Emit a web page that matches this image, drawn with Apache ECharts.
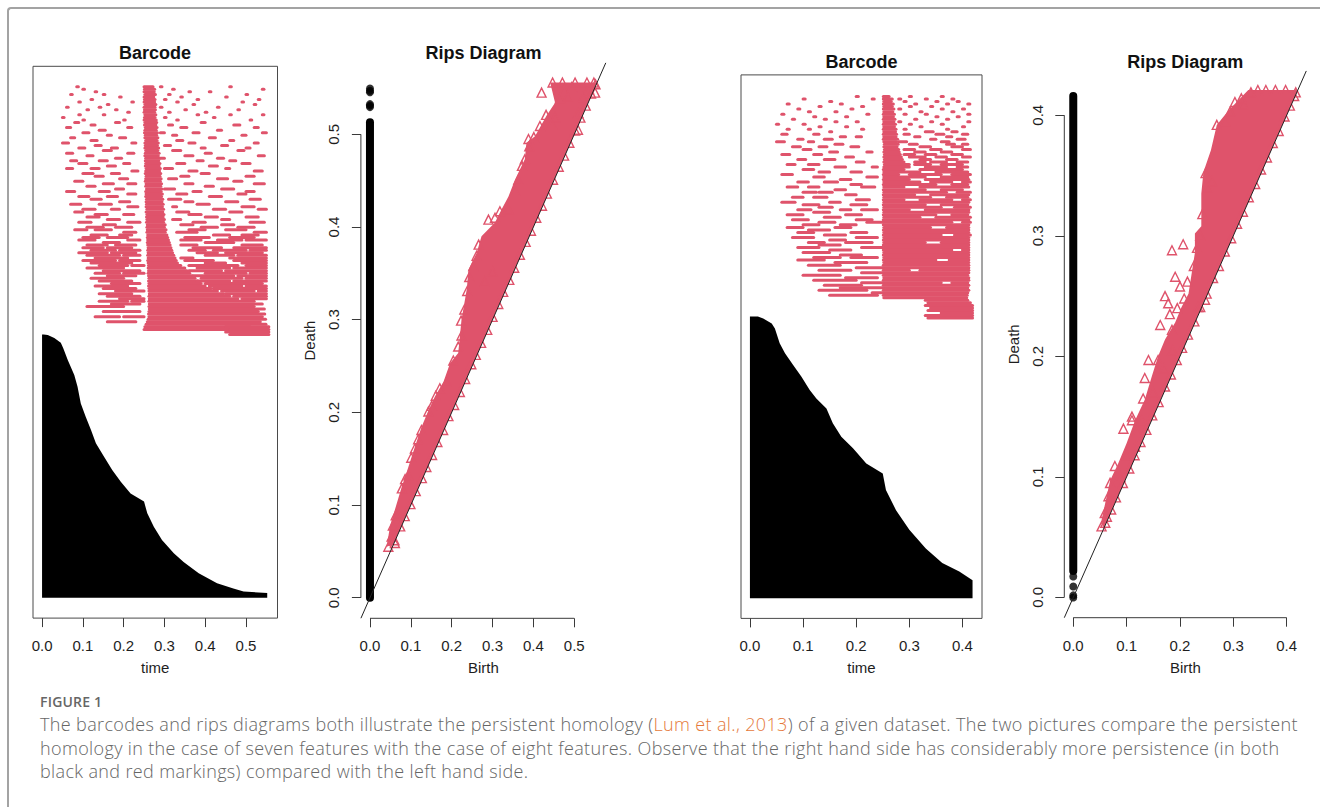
<!DOCTYPE html>
<html>
<head>
<meta charset="utf-8">
<script src="https://cdn.jsdelivr.net/npm/echarts@6/dist/echarts.min.js"></script>
<style>
html, body { margin: 0; padding: 0; background: #fff; }
#frame { position: absolute; left: 7px; top: 7px; width: 1400px; height: 900px;
  border-left: 2px solid #a3a3a3; border-top: 2px solid #a3a3a3; border-top-left-radius: 4px; }
#chart { position: absolute; left: 0; top: 0; width: 1320px; height: 690px; }
#figlabel { position: absolute; left: 40px; top: 694px; font: 600 14px "Open Sans", Lato, sans-serif;
  color: #666; letter-spacing: 0.2px; line-height: 16px; }
#caption { position: absolute; left: 40px; top: 713px; font: 300 18px "Open Sans", Lato, sans-serif;
  letter-spacing: 0.36px; color: #666; line-height: 23.5px; white-space: nowrap; }
#caption .ref { color: #e5793a; }
</style>
</head>
<body>
<div id="frame"></div>
<div id="chart"></div>
<div id="figlabel">FIGURE 1</div>
<div id="caption">The barcodes and rips diagrams both illustrate the persistent homology (<span class="ref">Lum et al., 2013</span>) of a given dataset. The two pictures compare the persistent<br>homology in the case of seven features with the case of eight features. Observe that the right hand side has considerably more persistence (in both<br>black and red markings) compared with the left hand side.</div>
<script>
var RED = '#DF536B';
var TXT = '#1e1e1e';
var FONT = '"Liberation Sans", Arial, Helvetica, sans-serif';

// axis ranges (R pads 4% each side)
var rangeL = [-0.0222, 0.5772];
var rangeR = [-0.0168, 0.4368];
var rankRange = [-4, 104];

var ticksL = [0, 0.1, 0.2, 0.3, 0.4, 0.5];
var ticksR = [0, 0.1, 0.2, 0.3, 0.4];

// ---- left barcode (seven features) ----
// H0 bars: death time by stack position (rank 0 = bottom bar)
var h0RankL = [0, 0.9, 1.2, 1.8, 2.8, 4.8, 7.0, 8.7, 11.3, 13.9, 16.5, 18.8, 20.4, 22.7, 25.0, 27.6, 30.2, 32.8, 35.4, 38.0, 41.3, 43.6, 46.5, 48.8, 49.9, 50.8, 51.4, 51.5];
var h0DeathL = [0.552, 0.552, 0.494, 0.469, 0.429, 0.384, 0.347, 0.323, 0.294, 0.274, 0.258, 0.250, 0.217, 0.193, 0.172, 0.152, 0.132, 0.120, 0.107, 0.095, 0.087, 0.079, 0.063, 0.052, 0.046, 0.030, 0.014, 0.004];
// H1 bars by row: [rank, birth, death, birth, death, ...]
var h1RowsL = [
 [100.0, 0.250,0.272, 0.29,0.294, 0.46,0.464, 0.085,0.089],
 [99.5, 0.251,0.276, 0.10,0.104, 0.32,0.324, 0.54,0.544],
 [99.0, 0.250,0.275, 0.13,0.134, 0.36,0.364, 0.41,0.414],
 [98.5, 0.252,0.278, 0.07,0.074, 0.15,0.154, 0.31,0.314, 0.50,0.504],
 [98.0, 0.250,0.274, 0.19,0.194, 0.34,0.344, 0.45,0.454],
 [97.5, 0.251,0.277, 0.12,0.124, 0.30,0.304, 0.38,0.384, 0.53,0.534],
 [97.0, 0.250,0.276, 0.09,0.094, 0.22,0.224, 0.33,0.334, 0.49,0.494],
 [96.5, 0.252,0.279, 0.16,0.164, 0.37,0.374, 0.52,0.524],
 [96.0, 0.250,0.277, 0.06,0.064, 0.14,0.144, 0.29,0.294, 0.43,0.434],
 [95.5, 0.251,0.278, 0.11,0.114, 0.18,0.184, 0.35,0.354, 0.48,0.484],
 [95.0, 0.250,0.276, 0.21,0.214, 0.31,0.314, 0.40,0.404],
 [94.5, 0.252,0.279, 0.09,0.094, 0.15,0.154, 0.38,0.384, 0.46,0.464, 0.54,0.544],
 [94.0, 0.251,0.277, 0.05,0.054, 0.30,0.304, 0.42,0.424],
 [93.5, 0.250,0.280, 0.10,0.104, 0.20,0.204, 0.33,0.334, 0.51,0.514],
 [93.0, 0.252,0.281, 0.08,0.09, 0.18,0.19, 0.39,0.40],
 [92.5, 0.251,0.279, 0.12,0.13, 0.31,0.32, 0.47,0.485],
 [92.0, 0.253,0.282, 0.06,0.07, 0.21,0.22, 0.34,0.355, 0.52,0.53],
 [91.5, 0.252,0.280, 0.14,0.155, 0.43,0.44],
 [91.0, 0.251,0.283, 0.10,0.115, 0.29,0.30, 0.37,0.385, 0.54,0.55],
 [90.5, 0.253,0.281, 0.16,0.17, 0.32,0.33, 0.49,0.50],
 [90.0, 0.252,0.284, 0.07,0.08, 0.19,0.205, 0.41,0.425],
 [89.5, 0.254,0.282, 0.12,0.135, 0.33,0.345, 0.46,0.47],
 [89.0, 0.252,0.285, 0.05,0.065, 0.22,0.23, 0.36,0.375, 0.52,0.53],
 [88.5, 0.253,0.283, 0.13,0.145, 0.30,0.315, 0.44,0.455],
 [88.0, 0.252,0.286, 0.09,0.105, 0.17,0.185, 0.39,0.40, 0.50,0.51],
 [87.5, 0.254,0.284, 0.15,0.17, 0.32,0.34, 0.48,0.495],
 [87.0, 0.253,0.287, 0.06,0.075, 0.21,0.225, 0.40,0.415],
 [86.5, 0.252,0.285, 0.11,0.125, 0.35,0.37, 0.53,0.545],
 [86.0, 0.254,0.288, 0.18,0.195, 0.29,0.30, 0.43,0.445],
 [85.5, 0.253,0.286, 0.07,0.085, 0.14,0.16, 0.38,0.395, 0.46,0.475],
 [85.0, 0.254,0.289, 0.09,0.11, 0.20,0.215, 0.33,0.35, 0.49,0.51],
 [84.5, 0.253,0.287, 0.16,0.18, 0.41,0.43],
 [84.0, 0.255,0.290, 0.06,0.075, 0.12,0.14, 0.30,0.32, 0.45,0.46],
 [83.5, 0.254,0.288, 0.22,0.235, 0.36,0.38, 0.52,0.54],
 [83.0, 0.253,0.291, 0.10,0.125, 0.17,0.19, 0.39,0.41],
 [82.5, 0.255,0.289, 0.13,0.15, 0.34,0.36, 0.50,0.52],
 [82.0, 0.254,0.292, 0.19,0.21, 0.31,0.33, 0.43,0.455],
 [81.5, 0.253,0.290, 0.08,0.10, 0.47,0.49],
 [81.0, 0.255,0.293, 0.15,0.175, 0.21,0.23, 0.35,0.37, 0.52,0.545],
 [80.5, 0.254,0.291, 0.11,0.13, 0.40,0.42],
 [80.0, 0.256,0.294, 0.18,0.20, 0.30,0.325, 0.44,0.47],
 [79.5, 0.254,0.292, 0.06,0.08, 0.14,0.165, 0.37,0.39, 0.50,0.52],
 [79.0, 0.255,0.295, 0.21,0.23, 0.33,0.355, 0.48,0.50],
 [78.5, 0.254,0.293, 0.09,0.115, 0.16,0.185, 0.41,0.44],
 [78.0, 0.256,0.296, 0.12,0.145, 0.31,0.34, 0.51,0.535],
 [77.5, 0.255,0.294, 0.19,0.215, 0.35,0.37, 0.45,0.48],
 [77.0, 0.256,0.297, 0.07,0.095, 0.14,0.17, 0.38,0.41],
 [76.5, 0.255,0.295, 0.21,0.235, 0.32,0.33, 0.49,0.52],
 [76.0, 0.257,0.298, 0.10,0.13, 0.17,0.19, 0.42,0.45, 0.53,0.55],
 [75.5, 0.255,0.296, 0.08,0.10, 0.33,0.36, 0.46,0.49],
 [75.0, 0.257,0.299, 0.13,0.16, 0.20,0.225, 0.36,0.39],
 [74.5, 0.256,0.297, 0.11,0.14, 0.40,0.43, 0.50,0.53],
 [74.0, 0.257,0.300, 0.16,0.19, 0.32,0.34, 0.44,0.46],
 [73.5, 0.256,0.298, 0.09,0.12, 0.21,0.24, 0.37,0.40, 0.51,0.545],
 [73.0, 0.258,0.302, 0.15,0.18, 0.34,0.37, 0.44,0.47],
 [72.5, 0.257,0.300, 0.11,0.15, 0.18,0.22, 0.39,0.43, 0.48,0.52],
 [72.0, 0.258,0.304, 0.08,0.11, 0.13,0.17, 0.36,0.40, 0.45,0.50],
 [71.5, 0.257,0.302, 0.20,0.23, 0.33,0.38, 0.52,0.55],
 [71.0, 0.259,0.306, 0.12,0.16, 0.19,0.22, 0.42,0.46, 0.49,0.53],
 [70.5, 0.258,0.308, 0.10,0.14, 0.16,0.21, 0.35,0.41, 0.46,0.52],
 [70.0, 0.259,0.310, 0.09,0.13, 0.21,0.24, 0.34,0.39, 0.43,0.49, 0.50,0.55],
 [69.5, 0.258,0.312, 0.15,0.19, 0.40,0.47],
 [69.0, 0.259,0.314, 0.11,0.16, 0.18,0.23, 0.34,0.38, 0.49,0.54],
 [68.5, 0.260,0.316, 0.10,0.15, 0.16,0.22, 0.37,0.44, 0.47,0.55],
 [68.0, 0.259,0.318, 0.12,0.18, 0.19,0.24, 0.36,0.40, 0.42,0.50, 0.51,0.55],
 [67.5, 0.260,0.320, 0.09,0.16, 0.17,0.23, 0.38,0.43, 0.45,0.54],
 [67.0, 0.259,0.323, 0.11,0.19, 0.20,0.24, 0.40,0.47, 0.48,0.55],
 [66.5, 0.260,0.326, 0.13,0.21, 0.34,0.37, 0.46,0.55],
 [66.0, 0.259,0.329, 0.10,0.18, 0.19,0.24, 0.35,0.42, 0.47,0.55],
 [65.5, 0.260,0.332, 0.12,0.22, 0.40,0.45, 0.49,0.55],
 [65.0, 0.261,0.340, 0.14,0.21, 0.22,0.25, 0.36,0.48, 0.50,0.55],
 [64.5, 0.260,0.350, 0.11,0.20, 0.38,0.46, 0.47,0.55],
 [64.0, 0.261,0.355, 0.15,0.24, 0.36,0.44, 0.45,0.55],
 [63.5, 0.260,0.362, 0.13,0.19, 0.20,0.25, 0.40,0.50, 0.51,0.55],
 [63.0, 0.261,0.368, 0.16,0.23, 0.37,0.47, 0.48,0.55],
 [62.5, 0.262,0.375, 0.12,0.20, 0.39,0.49, 0.50,0.55],
 [62.0, 0.261,0.382, 0.14,0.22, 0.38,0.46, 0.47,0.55],
 [61.5, 0.262,0.390, 0.17,0.24, 0.40,0.54],
 [61.0, 0.261,0.400, 0.13,0.21, 0.41,0.49, 0.50,0.55],
 [60.5, 0.262,0.415, 0.15,0.23, 0.42,0.55],
 [60.0, 0.262,0.430, 0.18,0.25, 0.44,0.52, 0.53,0.55],
 [59.5, 0.263,0.445, 0.14,0.22, 0.45,0.55],
 [59.0, 0.262,0.460, 0.16,0.24, 0.47,0.55],
 [58.5, 0.263,0.480, 0.19,0.25, 0.49,0.55],
 [58.0, 0.262,0.520, 0.14,0.21, 0.22,0.25],
 [57.5, 0.263,0.540, 0.17,0.24],
 [57.0, 0.262,0.520, 0.11,0.20],
 [56.5, 0.263,0.545],
 [56.0, 0.262,0.530, 0.15,0.24],
 [55.5, 0.261,0.546],
 [55.0, 0.262,0.540, 0.13,0.19, 0.20,0.25],
 [54.5, 0.260,0.548],
 [54.0, 0.258,0.535, 0.16,0.23],
 [53.5, 0.255,0.549],
 [53.0, 0.252,0.510, 0.45,0.556],
 [52.5, 0.250,0.500, 0.46,0.556],
 [52.0, 0.45,0.556],
 [51.5, 0.46,0.556]
];

// ---- right barcode (eight features) ----
var h0RankR = [0, 3.6, 5.3, 7.0, 9.9, 13.6, 17.5, 21.5, 24.8, 26.8, 29.8, 32.1, 34.8, 37.7, 39.7, 41.4, 44.0, 46.4, 48.7, 50.7, 53.6, 54.6, 55.6, 56.0];
var h0DeathR = [0.419, 0.419, 0.394, 0.362, 0.331, 0.300, 0.275, 0.256, 0.250, 0.219, 0.194, 0.172, 0.156, 0.144, 0.125, 0.1125, 0.097, 0.081, 0.066, 0.056, 0.047, 0.041, 0.025, 0.015];
var h1RowsR = [
 [99.7, 0.251,0.262, 0.20,0.204, 0.30,0.304, 0.36,0.364],
 [99.2, 0.251,0.268, 0.10,0.104, 0.23,0.234, 0.28,0.284, 0.33,0.334, 0.38,0.384],
 [98.7, 0.252,0.266, 0.15,0.154, 0.29,0.294, 0.35,0.354, 0.39,0.394],
 [98.2, 0.251,0.270, 0.07,0.074, 0.17,0.174, 0.31,0.314, 0.37,0.374, 0.41,0.414],
 [97.7, 0.252,0.268, 0.13,0.134, 0.21,0.214, 0.30,0.304, 0.34,0.344],
 [97.2, 0.251,0.271, 0.09,0.094, 0.19,0.194, 0.28,0.284, 0.36,0.364, 0.40,0.404],
 [96.7, 0.252,0.269, 0.11,0.114, 0.16,0.164, 0.32,0.324, 0.38,0.384],
 [96.2, 0.251,0.272, 0.06,0.064, 0.22,0.224, 0.29,0.294, 0.33,0.334, 0.41,0.414],
 [95.7, 0.252,0.270, 0.12,0.124, 0.18,0.184, 0.35,0.354, 0.39,0.394],
 [95.2, 0.251,0.273, 0.08,0.084, 0.14,0.144, 0.31,0.314, 0.37,0.374],
 [94.7, 0.252,0.271, 0.16,0.164, 0.20,0.204, 0.28,0.284, 0.34,0.344, 0.41,0.414],
 [94.2, 0.251,0.274, 0.05,0.054, 0.10,0.104, 0.30,0.304, 0.36,0.364],
 [93.7, 0.252,0.272, 0.13,0.134, 0.18,0.184, 0.32,0.324, 0.40,0.404],
 [93.2, 0.251,0.275, 0.07,0.074, 0.11,0.114, 0.21,0.214, 0.29,0.294, 0.37,0.374],
 [92.7, 0.252,0.274, 0.15,0.154, 0.33,0.345, 0.38,0.39],
 [92.2, 0.251,0.276, 0.06,0.07, 0.12,0.13, 0.29,0.30, 0.35,0.365, 0.40,0.41],
 [91.7, 0.252,0.275, 0.17,0.18, 0.20,0.21, 0.31,0.32, 0.37,0.38],
 [91.2, 0.251,0.278, 0.09,0.10, 0.14,0.155, 0.34,0.35, 0.39,0.405],
 [90.7, 0.252,0.276, 0.05,0.065, 0.11,0.12, 0.28,0.295, 0.36,0.375],
 [90.2, 0.253,0.279, 0.16,0.175, 0.30,0.315, 0.37,0.385, 0.40,0.41],
 [89.7, 0.252,0.277, 0.08,0.095, 0.13,0.145, 0.19,0.205, 0.32,0.34, 0.38,0.40],
 [89.2, 0.253,0.280, 0.10,0.115, 0.29,0.31, 0.34,0.36, 0.40,0.415],
 [88.7, 0.252,0.281, 0.15,0.165, 0.22,0.23, 0.31,0.33, 0.36,0.38],
 [88.2, 0.253,0.283, 0.06,0.075, 0.12,0.135, 0.29,0.31, 0.33,0.35, 0.38,0.40],
 [87.7, 0.252,0.285, 0.18,0.195, 0.30,0.33, 0.35,0.37, 0.40,0.415],
 [87.2, 0.253,0.287, 0.09,0.105, 0.14,0.16, 0.32,0.34, 0.37,0.39],
 [86.7, 0.252,0.290, 0.20,0.215, 0.31,0.33, 0.34,0.37, 0.39,0.41],
 [86.2, 0.253,0.300, 0.07,0.085, 0.11,0.13, 0.31,0.34, 0.36,0.40],
 [85.7, 0.252,0.300, 0.33,0.37, 0.39,0.41, 0.16,0.18, 0.23,0.24],
 [85.2, 0.251,0.290, 0.32,0.40, 0.10,0.12],
 [84.7, 0.252,0.320, 0.35,0.41, 0.13,0.15, 0.19,0.21],
 [84.2, 0.251,0.280, 0.30,0.36, 0.38,0.415, 0.06,0.08],
 [83.7, 0.252,0.330, 0.36,0.41, 0.12,0.14, 0.22,0.24],
 [83.2, 0.251,0.300, 0.33,0.412, 0.17,0.19],
 [82.7, 0.252,0.320, 0.34,0.38, 0.40,0.415, 0.09,0.11, 0.14,0.165],
 [82.2, 0.251,0.350, 0.38,0.41, 0.19,0.21],
 [81.7, 0.252,0.290, 0.32,0.412, 0.07,0.09, 0.11,0.13, 0.21,0.235],
 [81.2, 0.251,0.330, 0.36,0.40, 0.16,0.18],
 [80.7, 0.252,0.370, 0.39,0.415, 0.10,0.125, 0.13,0.155],
 [80.2, 0.251,0.310, 0.34,0.412, 0.18,0.20],
 [79.7, 0.252,0.340, 0.37,0.41, 0.08,0.10, 0.12,0.145],
 [79.2, 0.251,0.290, 0.32,0.38, 0.40,0.415, 0.20,0.225],
 [78.7, 0.252,0.412, 0.06,0.085, 0.15,0.17],
 [78.2, 0.251,0.330, 0.36,0.41, 0.10,0.13, 0.19,0.22],
 [77.7, 0.252,0.360, 0.385,0.415, 0.13,0.155],
 [77.2, 0.251,0.300, 0.33,0.412, 0.09,0.115, 0.17,0.19, 0.21,0.24],
 [76.7, 0.252,0.412, 0.12,0.15],
 [76.2, 0.251,0.350, 0.38,0.41, 0.07,0.10, 0.18,0.21],
 [75.7, 0.252,0.320, 0.35,0.415, 0.14,0.17],
 [75.2, 0.251,0.412, 0.08,0.11, 0.20,0.23],
 [74.7, 0.252,0.380, 0.40,0.415, 0.13,0.16, 0.22,0.25],
 [74.2, 0.251,0.412, 0.10,0.13, 0.17,0.20],
 [73.7, 0.252,0.340, 0.37,0.412, 0.07,0.10, 0.16,0.19],
 [73.2, 0.251,0.412, 0.11,0.15],
 [72.7, 0.252,0.412, 0.09,0.12, 0.19,0.22],
 [72.2, 0.251,0.360, 0.385,0.415, 0.14,0.18],
 [71.7, 0.252,0.412, 0.08,0.12, 0.20,0.24],
 [71.2, 0.251,0.412, 0.15,0.18],
 [70.7, 0.252,0.330, 0.36,0.412, 0.11,0.14, 0.18,0.23],
 [70.2, 0.251,0.412, 0.13,0.17],
 [69.7, 0.252,0.412, 0.09,0.13, 0.21,0.25],
 [69.2, 0.251,0.380, 0.40,0.412, 0.15,0.19],
 [68.7, 0.252,0.412, 0.10,0.15],
 [68.2, 0.251,0.412, 0.17,0.21],
 [67.7, 0.252,0.412, 0.12,0.17, 0.19,0.24],
 [67.2, 0.251,0.350, 0.375,0.412, 0.09,0.14],
 [66.7, 0.252,0.412, 0.16,0.22],
 [66.2, 0.251,0.412, 0.11,0.17],
 [65.7, 0.252,0.412, 0.20,0.25],
 [65.2, 0.251,0.300, 0.32,0.412, 0.13,0.19],
 [64.7, 0.252,0.412, 0.21,0.25],
 [64.2, 0.251,0.410, 0.10,0.17],
 [63.7, 0.252,0.412, 0.18,0.24],
 [63.2, 0.251,0.412, 0.12,0.20],
 [62.7, 0.252,0.360, 0.38,0.410, 0.21,0.25],
 [62.2, 0.251,0.412, 0.14,0.21],
 [61.7, 0.252,0.410, 0.17,0.25],
 [61.2, 0.251,0.412, 0.13,0.22],
 [60.7, 0.252,0.410, 0.23,0.25],
 [60.2, 0.251,0.409, 0.15,0.24],
 [59.7, 0.252,0.408],
 [59.2, 0.33,0.41],
 [58.7, 0.335,0.415],
 [58.2, 0.33,0.419],
 [57.7, 0.34,0.419],
 [57.2, 0.335,0.419],
 [56.7, 0.36,0.419],
 [56.2, 0.33,0.419],
 [55.7, 0.335,0.419]
];

// ---- rips diagrams: [birth, death] ----
var ripsBandL = [[0.041,0.055],[0.049,0.077],[0.061,0.095],[0.078,0.120],[0.094,0.141],[0.110,0.163],[0.126,0.184],[0.143,0.202],[0.159,0.217],[0.180,0.233],[0.196,0.253],[0.216,0.264],[0.220,0.282],[0.224,0.300],[0.237,0.333],[0.241,0.354],[0.261,0.372],[0.273,0.390],[0.306,0.405],[0.322,0.419],[0.339,0.433],[0.355,0.451],[0.379,0.473],[0.383,0.491],[0.404,0.498],[0.432,0.520],[0.453,0.534],[0.441,0.556],[0.556,0.556],[0.058,0.058]];
var ripsTriL = [
 [0.420,0.545],[0.465,0.539],[0.485,0.541],[0.510,0.523],[0.453,0.518],[0.445,0.511],[0.388,0.495],[0.390,0.487],[0.379,0.473],[0.372,0.466],[0.363,0.451],[0.355,0.439],[0.339,0.419],[0.290,0.408],[0.306,0.410],[0.318,0.417],[0.261,0.369],[0.253,0.358],[0.509,0.505],[0.551,0.545],[0.548,0.556],[0.531,0.556],[0.502,0.556],[0.471,0.556],[0.447,0.556],
 [0.401,0.497],[0.416,0.509],[0.431,0.521],[0.476,0.548],[0.494,0.551],[0.521,0.540],[0.536,0.549],
 [0.224,0.283],[0.204,0.256],[0.216,0.271],[0.188,0.233],[0.143,0.201],[0.110,0.161],[0.094,0.132],[0.069,0.091],[0.053,0.066],[0.045,0.055],[0.061,0.059],
 [0.300,0.352],[0.281,0.341],[0.266,0.381],[0.243,0.346],[0.238,0.331],[0.231,0.311],[0.223,0.299],[0.171,0.226],[0.161,0.218],[0.151,0.207],[0.126,0.181],[0.118,0.171],[0.101,0.151],[0.086,0.128],[0.078,0.118],[0.063,0.089],[0.056,0.078],
 [0.060,0.062],[0.074,0.077],[0.085,0.088],[0.099,0.101],[0.112,0.115],[0.127,0.129],[0.138,0.141],[0.152,0.154],[0.165,0.168],[0.179,0.181],[0.192,0.196],[0.206,0.208],[0.220,0.222],[0.233,0.236],[0.248,0.252],[0.259,0.262],[0.272,0.275],[0.287,0.289],[0.300,0.303],[0.314,0.317],[0.326,0.330],[0.341,0.343],[0.353,0.356],[0.367,0.370],[0.381,0.384],[0.394,0.396],[0.407,0.410],[0.421,0.423],[0.433,0.436],[0.448,0.451],[0.462,0.465],[0.475,0.477],[0.488,0.491],[0.502,0.504],[0.515,0.518],[0.528,0.531],[0.541,0.544],[0.552,0.554]
];
var h0SpanL = [0, 0.513];
var h0DotsL = [0.5495, 0.547, 0.5455, 0.5326, 0.531, 0.5294];

var ripsBandR = [[0.053,0.064],[0.069,0.097],[0.084,0.111],[0.100,0.128],[0.116,0.147],[0.134,0.164],[0.147,0.183],[0.159,0.200],[0.172,0.214],[0.191,0.228],[0.203,0.241],[0.216,0.252],[0.222,0.269],[0.228,0.286],[0.228,0.302],[0.240,0.308],[0.240,0.335],[0.244,0.353],[0.258,0.371],[0.269,0.392],[0.291,0.404],[0.328,0.421],[0.421,0.421],[0.058,0.058]];
var ripsTriR = [
 [0.303,0.411],[0.319,0.409],[0.294,0.403],[0.285,0.395],[0.269,0.392],[0.333,0.419],[0.346,0.421],[0.361,0.421],[0.379,0.421],[0.398,0.421],[0.417,0.419],[0.315,0.414],
 [0.260,0.345],[0.253,0.340],[0.248,0.352],[0.242,0.318],[0.238,0.300],[0.232,0.290],[0.206,0.293],[0.185,0.288],[0.191,0.266],[0.200,0.258],[0.172,0.250],[0.178,0.244],[0.181,0.235],[0.163,0.226],[0.185,0.222],[0.234,0.241],[0.247,0.247],[0.214,0.262],[0.226,0.275],[0.195,0.240],[0.208,0.248],
 [0.141,0.197],[0.159,0.197],[0.134,0.182],[0.131,0.165],[0.110,0.147],[0.094,0.140],[0.110,0.150],[0.128,0.147],[0.116,0.125],[0.078,0.109],[0.069,0.095],[0.066,0.084],[0.059,0.070],[0.053,0.059],[0.063,0.067],[0.088,0.100],[0.100,0.118],[0.120,0.138],[0.150,0.170],[0.170,0.190],[0.186,0.205],
 [0.060,0.062],[0.071,0.073],[0.080,0.083],[0.093,0.095],[0.105,0.107],[0.115,0.118],[0.126,0.129],[0.137,0.139],[0.148,0.151],[0.160,0.162],[0.172,0.175],[0.183,0.185],[0.194,0.197],[0.204,0.207],[0.215,0.218],[0.227,0.229],[0.238,0.241],[0.250,0.252],[0.262,0.265],[0.273,0.275],[0.284,0.287],[0.296,0.298],[0.307,0.310],[0.318,0.320],[0.329,0.332],[0.341,0.343],[0.352,0.355],[0.363,0.365],[0.374,0.377],[0.385,0.387],[0.396,0.399],[0.406,0.408],[0.414,0.416]
];
var h0SpanR = [0.022, 0.416];
var h0DotsR = [0.0174, 0.0091, 0.0017, 0];

// ---------- helpers ----------
function fmt(v) { return v.toFixed(1); }

function xAxisDef(gi, range, ticks, name) {
  return {
    gridIndex: gi, type: 'value', position: 'bottom', min: range[0], max: range[1],
    name: name, nameLocation: 'middle', nameGap: 42,
    nameTextStyle: { fontFamily: FONT, fontSize: 15, color: TXT },
    axisLine: { show: false, onZero: false }, splitLine: { show: false },
    axisTick: { show: true, inside: false, length: 9, customValues: ticks, lineStyle: { color: '#3a3a3a', width: 1 } },
    axisLabel: { show: true, inside: false, customValues: ticks, margin: 20, formatter: fmt, fontFamily: FONT, fontSize: 15, color: TXT }
  };
}
function ripsYAxis(gi, range, ticks, labelMargin, nameGap) {
  return {
    gridIndex: gi, type: 'value', position: 'left', min: range[0], max: range[1],
    name: 'Death', nameLocation: 'middle', nameGap: nameGap, nameRotate: 90,
    nameTextStyle: { fontFamily: FONT, fontSize: 15, color: TXT },
    axisLine: { show: false, onZero: false }, splitLine: { show: false },
    axisTick: { show: true, inside: false, length: 9, customValues: ticks, lineStyle: { color: '#3a3a3a', width: 1 } },
    axisLabel: { show: true, inside: false, customValues: ticks, rotate: 90, margin: labelMargin, formatter: fmt, fontFamily: FONT, fontSize: 15, color: TXT }
  };
}
function rankAxis(gi) {
  return { gridIndex: gi, type: 'value', min: rankRange[0], max: rankRange[1], show: false };
}

// rows [rank, b, d, b, d, ...] -> bars [birth, death, rank]
function rowsToBars(rows) {
  var out = [];
  rows.forEach(function (r) {
    for (var i = 1; i + 1 < r.length; i += 2) out.push([r[i], r[i + 1], r[0]]);
  });
  return out;
}

function polygonSeries(gi, pts, color) {
  return {
    type: 'custom', xAxisIndex: gi, yAxisIndex: gi, silent: true,
    data: [pts[0]],
    renderItem: function (params, api) {
      return { type: 'polygon', shape: { points: pts.map(function (p) { return api.coord(p); }) },
        style: { fill: color } };
    }
  };
}
function h0Polygon(ranks, deaths) {
  var pts = [[0, 0]];
  for (var i = 0; i < ranks.length; i++) pts.push([deaths[i], ranks[i]]);
  pts.push([0, ranks[ranks.length - 1]]);
  return pts;
}
function barsSeries(gi, bars) {
  return {
    type: 'custom', xAxisIndex: gi, yAxisIndex: gi, silent: true,
    dimensions: ['birth', 'death', 'rank'], encode: { x: [0, 1], y: 2 },
    data: bars,
    renderItem: function (params, api) {
      var a = api.coord([api.value(0), api.value(2)]);
      var b = api.coord([api.value(1), api.value(2)]);
      return { type: 'line', shape: { x1: a[0], y1: a[1], x2: b[0], y2: b[1] },
        style: { stroke: RED, lineWidth: 3, lineCap: 'round' } };
    }
  };
}
function plainLine(gi, data, color, width, cap, clip) {
  return {
    type: 'line', xAxisIndex: gi, yAxisIndex: gi, silent: true, symbol: 'none', clip: clip,
    data: data, lineStyle: { color: color, width: width, cap: cap }
  };
}
function triangles(gi, data) {
  return {
    type: 'scatter', xAxisIndex: gi, yAxisIndex: gi, silent: true, data: data,
    symbol: 'triangle', symbolSize: 9,
    itemStyle: { color: 'rgba(0,0,0,0)', borderColor: RED, borderWidth: 1.4, opacity: 1 }
  };
}
function h0Dots(gi, deaths) {
  return {
    type: 'scatter', xAxisIndex: gi, yAxisIndex: gi, silent: true,
    data: deaths.map(function (d) { return [0, d]; }),
    symbol: 'circle', symbolSize: 8, itemStyle: { color: '#000' }
  };
}
function ripsSeries(gi, range, ticks, band, tri, span, dots) {
  var lo = range[0], hi = range[1], last = ticks[ticks.length - 1];
  return [
    polygonSeries(gi, band, RED),
    triangles(gi, tri),
    plainLine(gi, [[0, span[0]], [0, span[1]]], '#000', 8, 'round', false),
    h0Dots(gi, dots),
    plainLine(gi, [[lo, lo], [hi, hi]], '#222', 1, 'butt', true),
    plainLine(gi, [[ticks[0], lo], [last, lo]], '#3a3a3a', 1, 'butt', false),
    plainLine(gi, [[lo, ticks[0]], [lo, last]], '#3a3a3a', 1, 'butt', false)
  ];
}
function title(text, x, y) {
  return { type: 'text', x: x, y: y, silent: true,
    style: { text: text, fontFamily: FONT, fontSize: 18, fontWeight: 'bold', fill: '#111',
      align: 'center', verticalAlign: 'middle', textAlign: 'center', textVerticalAlign: 'middle' } };
}

var chart = echarts.init(document.getElementById('chart'), null, { renderer: 'svg' });

var option = {
  backgroundColor: 'rgba(0,0,0,0)',
  animation: false,
  grid: [
    { left: 33, top: 66.3, width: 244.5, height: 551.8, show: true, borderColor: '#4a4a4a', borderWidth: 1 },
    { left: 360.9, top: 62.8, width: 244.9, height: 555.5 },
    { left: 741, top: 74.9, width: 241, height: 543.5, show: true, borderColor: '#4a4a4a', borderWidth: 1 },
    { left: 1064.3, top: 70.9, width: 242, height: 546.8 }
  ],
  xAxis: [
    xAxisDef(0, rangeL, ticksL, 'time'),
    xAxisDef(1, rangeL, ticksL, 'Birth'),
    xAxisDef(2, rangeR, ticksR, 'time'),
    xAxisDef(3, rangeR, ticksR, 'Birth')
  ],
  yAxis: [
    rankAxis(0),
    ripsYAxis(1, rangeL, ticksL, 20, 44),
    rankAxis(2),
    ripsYAxis(3, rangeR, ticksR, 19, 43)
  ],
  graphic: [
    title('Barcode', 155, 53),
    title('Rips Diagram', 483.4, 53),
    title('Barcode', 861.5, 62),
    title('Rips Diagram', 1185.3, 62)
  ],
  series: [
    polygonSeries(0, h0Polygon(h0RankL, h0DeathL), '#000'),
    barsSeries(0, rowsToBars(h1RowsL)),
    polygonSeries(2, h0Polygon(h0RankR, h0DeathR), '#000'),
    barsSeries(2, rowsToBars(h1RowsR))
  ].concat(
    ripsSeries(1, rangeL, ticksL, ripsBandL, ripsTriL, h0SpanL, h0DotsL),
    ripsSeries(3, rangeR, ticksR, ripsBandR, ripsTriR, h0SpanR, h0DotsR)
  )
};

chart.clear();
chart.setOption(option);
</script>
</body>
</html>
